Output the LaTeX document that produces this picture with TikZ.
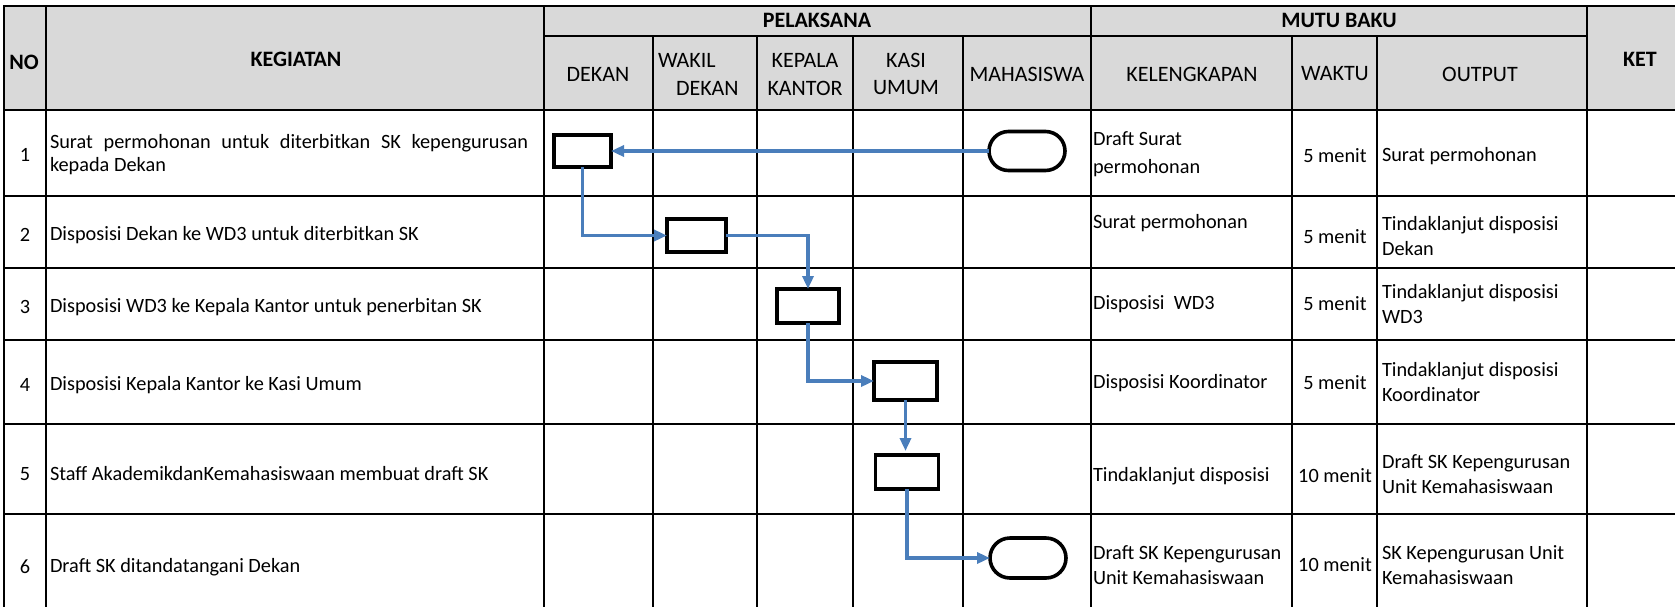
\documentclass[tikz,border=0pt]{standalone}
\usepackage{fontspec}
\setmainfont{Carlito}
\usetikzlibrary{arrows.meta,shapes.misc}
\definecolor{hdrgray}{RGB}{217,217,217}
\definecolor{connblue}{RGB}{74,126,187}
\begin{document}
\begin{tikzpicture}[x=1pt,y=-1pt,
  every node/.style={inner sep=0pt,outer sep=0pt},
  gridline/.style={line width=2.4pt,line cap=rect},
  hd/.style={font=\fontsize{22}{27}\selectfont\bfseries},
  sub/.style={font=\fontsize{22}{27}\selectfont,align=center},
  txt/.style={font=\fontsize{20.3}{25}\selectfont,anchor=west,align=left},
  ctr/.style={font=\fontsize{20.3}{25}\selectfont,align=center},
  proc/.style={draw,line width=3.2pt,fill=white,rectangle},
  term/.style={draw,line width=3.6pt,fill=white,rounded rectangle,minimum width=76pt,minimum height=39pt},
  flow/.style={draw=connblue,line width=3.4pt,-{Triangle[length=13pt,width=11pt]}}
]
\useasboundingbox (0,0) rectangle (1675,606);
\clip (0,0) rectangle (1675,606);
% header background
\fill[hdrgray] (4,6) rectangle (1690,110);
% horizontal lines
\foreach \yy in {6,110,196,268,340,424,514}
  \draw[gridline] (4,\yy) -- (1690,\yy);
\draw[gridline] (544,36) -- (1587,36);
% vertical lines
\foreach \xx in {4,46,544,1091,1587}
  \draw[gridline] (\xx,6) -- (\xx,620);
\foreach \xx in {653,757,853,963,1292,1377}
  \draw[gridline] (\xx,36) -- (\xx,620);

% header texts
\node[hd] (hno) at (24,62) {NO};
\node[hd] (hkeg) at (296,59) {KEGIATAN};
\node[hd] (hket) at (1640,59) {KET};
\node[hd] (hpel) at (817,20) {PELAKSANA};
\node[hd] (hmutu) at (1339,20) {MUTU BAKU};
\node[sub] (hdekan) at (598,74) {DEKAN};
\node[sub,anchor=west] (hwakil) at (658,60) {WAKIL};
\node[sub,anchor=west] (hwakil2) at (676,88) {DEKAN};
\node[sub] (hkepala) at (805,60) {KEPALA};
\node[sub] (hkepala2) at (805,88) {KANTOR};
\node[sub] (hkasi) at (906,60) {KASI};
\node[sub] (hkasi2) at (906,88) {UMUM};
\node[sub] (hmhs) at (1027,74) {MAHASISWA};
\node[sub] (hkel) at (1192,74) {KELENGKAPAN};
\node[sub] (hwaktu) at (1335,74) {WAKTU};
\node[sub] (hout) at (1480,74) {OUTPUT};

% NO column
\node[ctr] (n1) at (25,155) {1};
\node[ctr] (n2) at (25,235) {2};
\node[ctr] (n3) at (25,307) {3};
\node[ctr] (n4) at (25,385) {4};
\node[ctr] (n5) at (25,474) {5};
\node[ctr] (n6) at (25,567) {6};

% KEGIATAN column
\node[txt,font=\fontsize{20.3}{23}\selectfont] (k1) at (50,155) {\makebox[478pt][s]{Surat permohonan untuk diterbitkan SK kepengurusan}\\kepada Dekan};
\node[txt] (k2) at (50,235) {Disposisi Dekan ke WD3 untuk diterbitkan SK};
\node[txt] (k3) at (50,307) {Disposisi WD3 ke Kepala Kantor untuk penerbitan SK};
\node[txt] (k4) at (50,385) {Disposisi Kepala Kantor ke Kasi Umum};
\node[txt] (k5) at (50,474) {Staff AkademikdanKemahasiswaan membuat draft SK};
\node[txt] (k6) at (50,567) {Draft SK ditandatangani Dekan};

% KELENGKAPAN column
\node[txt,font=\fontsize{20.3}{28}\selectfont] (l1) at (1093,154) {Draft Surat\\permohonan};
\node[txt] (l2) at (1093,223) {Surat permohonan};
\node[txt] (l3) at (1093,304) {Disposisi\ \ WD3};
\node[txt] (l4) at (1093,383) {Disposisi Koordinator};
\node[txt] (l5) at (1093,476) {Tindaklanjut disposisi};
\node[txt] (l6) at (1093,565) {Draft SK Kepengurusan\\Unit Kemahasiswaan};

% WAKTU column
\node[ctr] (w1) at (1335,156) {5 menit};
\node[ctr] (w2) at (1335,237) {5 menit};
\node[ctr] (w3) at (1335,304) {5 menit};
\node[ctr] (w4) at (1335,383) {5 menit};
\node[ctr] (w5) at (1335,476) {10 menit};
\node[ctr] (w6) at (1335,565) {10 menit};

% OUTPUT column
\node[txt] (o1) at (1382,156) {Surat permohonan};
\node[txt] (o2) at (1382,236) {Tindaklanjut disposisi\\Dekan};
\node[txt] (o3) at (1382,304) {Tindaklanjut disposisi\\WD3};
\node[txt] (o4) at (1382,382) {Tindaklanjut disposisi\\Koordinator};
\node[txt] (o5) at (1382,474) {Draft SK Kepengurusan\\Unit Kemahasiswaan};
\node[txt] (o6) at (1382,565) {SK Kepengurusan Unit\\Kemahasiswaan};

% flowchart shapes
\node[proc,minimum width=57pt,minimum height=32pt] (b1) at (582.5,151) {};
\node[term] (t1) at (1027,151) {};
\node[proc,minimum width=59pt,minimum height=33pt] (b2) at (696.5,235.5) {};
\node[proc,minimum width=62pt,minimum height=34pt] (b3) at (808,306) {};
\node[proc,minimum width=63pt,minimum height=38pt] (b4) at (905.5,381) {};
\node[proc,minimum width=63pt,minimum height=34pt] (b5) at (907,472) {};
\node[term,minimum height=40pt] (t2) at (1028,558) {};

% connectors
\draw[flow] (t1.west) -- (b1.east);
\draw[flow] (b1.south) |- (b2.west);
\draw[flow] (b2.east) -| (b3.north);
\draw[flow] (b3.south) |- (b4.west);
\draw[flow,shorten >=4pt] (b4.south) -- (b4.south |- b5.north);
\draw[flow] (b5.south) |- (t2.west);
\end{tikzpicture}
\end{document}
